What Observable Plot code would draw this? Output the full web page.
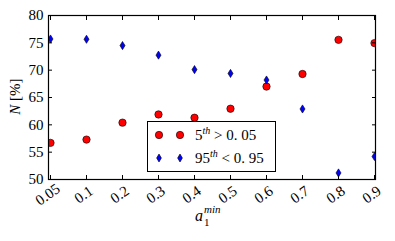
<!DOCTYPE html>
<html><head><meta charset="utf-8">
<script src="https://cdn.jsdelivr.net/npm/d3@7"></script>
<script src="https://cdn.jsdelivr.net/npm/@observablehq/plot@0.6"></script>
<style>
body{margin:0;background:#fff;}
#wrap{position:relative;width:395px;height:241px;font-family:"Liberation Serif","Times New Roman","DejaVu Serif",serif;}
#wrap svg, #wrap svg text{font-family:"Liberation Serif","Times New Roman","DejaVu Serif",serif !important;}
.lbl{position:absolute;color:#000;white-space:nowrap;}
#legend{position:absolute;left:147px;top:121px;width:127px;height:49px;border:1.3px solid #000;background:#fff;box-sizing:content-box;}
.row{position:absolute;left:0;height:20px;display:flex;align-items:center;font-size:15px;}
</style></head>
<body>
<div id="wrap"></div>
<script>
const categories = ["0.05","0.1","0.2","0.3","0.4","0.5","0.6","0.7","0.8","0.9"];
const p5 = [56.7,57.3,60.4,61.9,61.3,62.95,67.0,69.3,75.55,74.95];
const p95 = [75.7,75.65,74.5,72.75,70.1,69.4,68.2,62.9,51.2,54.2];
const yTicks = [50,55,60,65,70,75,80];

const red = categories.map((c,i)=>({x:c,y:p5[i]}));
const blue = categories.map((c,i)=>({x:c,y:p95[i]}));

const thinDiamond = {draw(ctx, size){
  const h = Math.sqrt(size)*0.46, w = h*0.62;
  ctx.moveTo(0,-h); ctx.lineTo(w,0); ctx.lineTo(0,h); ctx.lineTo(-w,0); ctx.closePath();
}};

const chart = Plot.plot({
  width:395, height:241,
  marginLeft:48, marginRight:20, marginTop:15, marginBottom:62,
  style:{fontFamily:"'Liberation Serif', serif", fontSize:"15px", color:"#000", background:"#fff"},
  x:{type:"point", domain:categories, padding:0},
  y:{domain:[50,80]},
  marks:[
    Plot.dot(red,{x:"x",y:"y",r:3.7,fill:"#ff0000",stroke:"#000",strokeWidth:0.6,clip:true}),
    Plot.dot(blue,{x:"x",y:"y",symbol:thinDiamond,r:5,fill:"#0000ff",stroke:"#000",strokeWidth:0.6,clip:true}),
    Plot.frame({stroke:"#000",strokeWidth:1.2}),
    Plot.axisY({ticks:yTicks, tickSize:-4, tickPadding:9, label:null, fontSize:15}),
    Plot.axisY({anchor:"right", ticks:yTicks, tickSize:-4, tickFormat:()=>"", label:null}),
    Plot.axisX({anchor:"bottom", tickSize:-4, tickFormat:()=>"", label:null}),
    Plot.axisX({anchor:"top", tickSize:-4, tickFormat:()=>"", label:null}),
    Plot.text(categories,{x:d=>d, frameAnchor:"bottom", dy:19, rotate:-35, textAnchor:"middle", fontSize:15})
  ]
});
const wrap = document.getElementById("wrap");
wrap.appendChild(chart);

const yl = document.createElement("div");
yl.className="lbl";
yl.style.cssText="left:-12px;top:88px;width:54px;text-align:center;font-size:15px;transform:rotate(-90deg);";
yl.innerHTML='<i>N</i> [%]';
wrap.appendChild(yl);

const xl = document.createElement("div");
xl.className="lbl";
xl.style.cssText="left:195px;top:203px;width:40px;height:24px;font-size:16px;";
xl.innerHTML='<i style="position:absolute;left:0;top:4px;">a</i><i style="position:absolute;left:9px;top:0px;font-size:11px;">min</i><span style="position:absolute;left:9px;top:13px;font-size:11px;">1</span>';
wrap.appendChild(xl);

const lg = document.createElement("div");
lg.id="legend";
const circ = '<svg width="8" height="8" style="overflow:visible"><circle cx="4" cy="4" r="3.7" fill="#ff0000" stroke="#000" stroke-width="0.6"/></svg>';
const dia = '<svg width="8" height="8" style="overflow:visible"><path d="M4,0 L6.4,4 L4,8 L1.6,4Z" fill="#0000ff" stroke="#000" stroke-width="0.6"/></svg>';
lg.innerHTML =
 '<div class="row" style="top:2px;"><span style="position:absolute;left:7px;">'+circ+'</span><span style="position:absolute;left:28px;">'+circ+'</span><span style="position:absolute;left:47px;white-space:nowrap;">5<sup style="font-size:10px;font-style:italic;">th</sup> &gt; 0. 05</span></div>'+
 '<div class="row" style="top:25px;"><span style="position:absolute;left:7px;">'+dia+'</span><span style="position:absolute;left:28px;">'+dia+'</span><span style="position:absolute;left:47px;white-space:nowrap;">95<sup style="font-size:10px;font-style:italic;">th</sup> &lt; 0. 95</span></div>';
wrap.appendChild(lg);
</script>
</body></html>
